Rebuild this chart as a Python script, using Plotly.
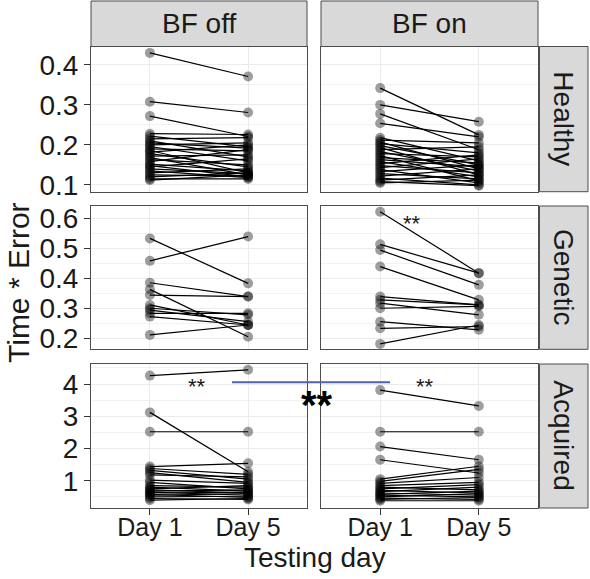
import plotly.graph_objects as go

# ---------------- data ----------------
days = ["Day 1", "Day 5"]
conditions = ["BF off", "BF on"]
groups = ["Healthy", "Genetic", "Acquired"]

healthy_off_d1 = [0.43, 0.308, 0.272, 0.228, 0.222, 0.215, 0.210, 0.205, 0.200, 0.196, 0.190, 0.186, 0.182, 0.178,
                  0.172, 0.168, 0.163, 0.158, 0.152, 0.148, 0.145, 0.140, 0.135, 0.130, 0.125, 0.120, 0.115, 0.112]
healthy_off_d5 = [0.371, 0.281, 0.221, 0.226, 0.195, 0.218, 0.170, 0.192, 0.205, 0.160, 0.185, 0.130, 0.200, 0.145,
                  0.175, 0.125, 0.150, 0.188, 0.135, 0.120, 0.165, 0.128, 0.118, 0.140, 0.122, 0.130, 0.115, 0.125]
healthy_on_d1 = [0.342, 0.300, 0.2775, 0.254, 0.218, 0.212, 0.207, 0.203, 0.198, 0.193, 0.188, 0.183, 0.178, 0.173,
                 0.168, 0.163, 0.158, 0.153, 0.148, 0.143, 0.138, 0.133, 0.128, 0.122, 0.117, 0.112, 0.108, 0.105]
healthy_on_d5 = [0.225, 0.258, 0.188, 0.220, 0.160, 0.205, 0.140, 0.180, 0.150, 0.125, 0.195, 0.135, 0.170, 0.110,
                 0.155, 0.145, 0.120, 0.175, 0.130, 0.165, 0.105, 0.150, 0.115, 0.140, 0.100, 0.125, 0.098, 0.112]

genetic_off_d1 = [0.533, 0.458, 0.385, 0.363, 0.344, 0.311, 0.300, 0.294, 0.283, 0.272, 0.211]
genetic_off_d5 = [0.383, 0.539, 0.339, 0.205, 0.339, 0.244, 0.278, 0.255, 0.283, 0.244, 0.244]
genetic_on_d1 = [0.622, 0.513, 0.494, 0.439, 0.339, 0.328, 0.317, 0.300, 0.255, 0.233, 0.181]
genetic_on_d5 = [0.417, 0.417, 0.378, 0.328, 0.311, 0.311, 0.278, 0.306, 0.228, 0.239, 0.244]

acquired_off_d1 = [4.26, 3.12, 2.52, 1.44, 1.38, 1.32, 1.25, 1.18, 1.02, 0.95, 0.85, 0.80, 0.75, 0.72, 0.68,
                   0.65, 0.62, 0.58, 0.55, 0.50, 0.45, 0.40]
acquired_off_d5 = [4.44, 1.28, 2.52, 1.54, 1.20, 1.05, 0.95, 1.12, 0.92, 0.75, 0.80, 0.68, 0.85, 0.62, 0.72,
                   0.55, 0.65, 0.48, 0.60, 0.52, 0.42, 0.45]
acquired_on_d1 = [3.81, 2.52, 2.06, 1.65, 1.05, 0.98, 0.92, 0.85, 0.80, 0.75, 0.70, 0.66, 0.62, 0.58, 0.55,
                  0.50, 0.46, 0.42, 0.38]
acquired_on_d5 = [3.32, 2.52, 1.65, 1.24, 1.45, 1.35, 1.10, 0.95, 0.72, 0.88, 0.62, 0.80, 0.55, 0.68, 0.50,
                  0.60, 0.42, 0.48, 0.38]

panels = [
    [(healthy_off_d1, healthy_off_d5), (healthy_on_d1, healthy_on_d5)],
    [(genetic_off_d1, genetic_off_d5), (genetic_on_d1, genetic_on_d5)],
    [(acquired_off_d1, acquired_off_d5), (acquired_on_d1, acquired_on_d5)],
]

y_ranges = [[0.083, 0.446], [0.163, 0.641], [0.155, 4.62]]
y_major = [0.1, 0.1, 1.0]
y_minor = [0.05, 0.05, 0.5]

# ---------------- layout geometry (pixels) ----------------
W, H = 590, 579
col_px = [(91, 307), (321, 538)]
row_px = [(46.5, 191.7), (206, 349.3), (364, 508)]
strip_top = 1
strip_right = (539.5, 588)

def px(x):
    return x / W

def py(y):
    return 1 - y / H

FONT = "Liberation Sans, Arial, Helvetica, sans-serif"
TXT = "#1A1A1A"
BORDER = "#4D4D4D"
GRID = "#EBEBEB"

fig = go.Figure()
layout = dict(
    width=W, height=H,
    margin=dict(l=0, r=0, t=0, b=0),
    paper_bgcolor="white", plot_bgcolor="white",
    showlegend=False,
    font=dict(family=FONT, color=TXT),
)

shapes = []
annotations = []

for r in range(3):
    for c in range(2):
        idx = r * 2 + c + 1
        xs = "x" if idx == 1 else f"x{idx}"
        ys = "y" if idx == 1 else f"y{idx}"
        d1, d5 = panels[r][c]
        fig.add_trace(go.Scatter(
            x=[days[0]] * len(d1) + [days[1]] * len(d5), y=list(d1) + list(d5),
            mode="markers", xaxis=xs, yaxis=ys,
            marker=dict(size=10, color="rgba(0,0,0,0.38)", line=dict(width=0)),
            hoverinfo="skip"))
        lx, ly = [], []
        for a, b in zip(d1, d5):
            lx += [days[0], days[1], None]
            ly += [a, b, None]
        fig.add_trace(go.Scatter(
            x=lx, y=ly, mode="lines", xaxis=xs, yaxis=ys,
            line=dict(color="black", width=1.2), hoverinfo="skip"))

        bottom = (r == 2)
        left = (c == 0)
        layout[f"xaxis{idx}"] = dict(
            domain=[px(col_px[c][0]), px(col_px[c][1])],
            anchor=ys, type="category", categoryarray=days, categoryorder="array",
            range=[-0.6, 1.6], showgrid=True, gridcolor=GRID, gridwidth=1.4,
            showline=True, mirror=True, linecolor=BORDER, linewidth=1,
            ticks="outside" if bottom else "", ticklen=6, tickcolor="#333333", tickwidth=1,
            showticklabels=bottom, tickfont=dict(size=25, color=TXT, family=FONT),
            ticklabelstandoff=-9,
            zeroline=False, automargin=False, fixedrange=True,
        )
        layout[f"yaxis{idx}"] = dict(
            domain=[py(row_px[r][1]), py(row_px[r][0])],
            anchor=xs, range=y_ranges[r], tick0=0, dtick=y_major[r],
            showgrid=True, gridcolor=GRID, gridwidth=1.4,
            minor=dict(dtick=y_minor[r], tick0=0, showgrid=True, gridcolor="#F2F2F2", gridwidth=0.8),
            showline=True, mirror=True, linecolor=BORDER, linewidth=1,
            ticks="outside" if left else "", ticklen=6, tickcolor="#333333", tickwidth=1,
            showticklabels=left, tickfont=dict(size=28, color=TXT, family=FONT),
            zeroline=False, automargin=False, fixedrange=True,
        )

for c in range(2):
    x0, x1 = col_px[c]
    shapes.append(dict(type="rect", xref="paper", yref="paper",
                       x0=px(x0), x1=px(x1), y0=py(row_px[0][0]), y1=py(strip_top),
                       fillcolor="#D9D9D9", line=dict(color=BORDER, width=1), layer="above"))
    annotations.append(dict(xref="paper", yref="paper", x=px((x0 + x1) / 2),
                            y=py((strip_top + row_px[0][0]) / 2), text=conditions[c], showarrow=False,
                            font=dict(size=28, color=TXT, family=FONT), xanchor="center", yanchor="middle"))
for r in range(3):
    y0, y1 = row_px[r]
    shapes.append(dict(type="rect", xref="paper", yref="paper",
                       x0=px(strip_right[0]), x1=px(strip_right[1]), y0=py(y1), y1=py(y0),
                       fillcolor="#D9D9D9", line=dict(color=BORDER, width=1), layer="above"))
    annotations.append(dict(xref="paper", yref="paper", x=px(sum(strip_right) / 2),
                            y=py((y0 + y1) / 2), text=groups[r], showarrow=False, textangle=90,
                            font=dict(size=28, color=TXT, family=FONT), xanchor="center", yanchor="middle"))

annotations.append(dict(xref="paper", yref="paper", x=px((col_px[0][0] + col_px[1][1]) / 2), y=py(557),
                        text="Testing day", showarrow=False, font=dict(size=28, color=TXT, family=FONT),
                        xanchor="center", yanchor="middle"))
annotations.append(dict(xref="paper", yref="paper", x=px(18), y=py(283),
                        text="Time * Error", showarrow=False, textangle=-90,
                        font=dict(size=30, color=TXT, family=FONT), xanchor="center", yanchor="middle"))

annotations.append(dict(xref="paper", yref="paper", x=px(412), y=py(223), text="**", showarrow=False,
                        font=dict(size=22, color=TXT, family=FONT), xanchor="center", yanchor="middle"))
annotations.append(dict(xref="paper", yref="paper", x=px(197), y=py(386), text="**", showarrow=False,
                        font=dict(size=22, color=TXT, family=FONT), xanchor="center", yanchor="middle"))
annotations.append(dict(xref="paper", yref="paper", x=px(425), y=py(386), text="**", showarrow=False,
                        font=dict(size=22, color=TXT, family=FONT), xanchor="center", yanchor="middle"))
shapes.append(dict(type="line", xref="paper", yref="paper", x0=px(232), x1=px(390), y0=py(382.3), y1=py(382.3),
                   line=dict(color="#4F62B4", width=2), layer="above"))
annotations.append(dict(xref="paper", yref="paper", x=px(317), y=py(405), text="<b>**</b>", showarrow=False,
                        font=dict(size=40, color="black", family=FONT), xanchor="center", yanchor="middle"))

layout["shapes"] = shapes
layout["annotations"] = annotations
fig.update_layout(**layout)
fig.write_html("out.html")
